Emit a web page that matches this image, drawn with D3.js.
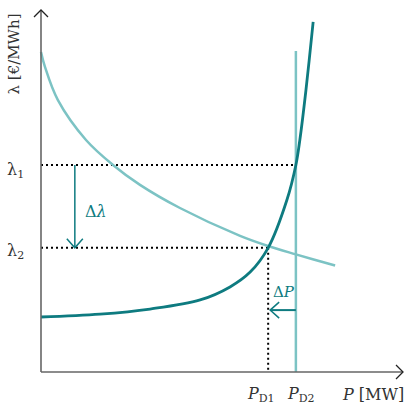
<!DOCTYPE html>
<html><head><meta charset="utf-8">
<script src="https://cdn.jsdelivr.net/npm/d3@7"></script>
<style>html,body{margin:0;padding:0;background:#fff;}svg{display:block;}</style>
</head><body>
<svg id="c" width="404" height="404"></svg>
<script>
// Data (arbitrary units: P 0..100, λ 0..100)
const supplyP = [0, 16.4, 30.3, 44.2, 52.5, 58.1, 63.1, 68.3, 70.8, 71.9, 73.6, 75.6];
const supplyL = [15.2, 16.0, 17.4, 19.9, 23.5, 27.6, 34.3, 47.5, 57.2, 64.1, 77.9, 96.7];
const demandP = [0, 1.1, 4.7, 12.5, 20.0, 27.5, 38.6, 55.3, 63.1, 70.8, 81.7];
const demandL = [88.4, 84.3, 75.1, 64.1, 57.2, 51.7, 45.3, 37.6, 34.8, 32.5, 29.4];
const inelasticP = 70.8, inelasticTop = 88.7;
const lambda1 = 57.2, lambda2 = 34.3, PD1 = 63.1, PD2 = 70.8;
const dLambdaP = 9.4, dPLambda = 17.1;

const svg = d3.select("#c");
const x = d3.scaleLinear().domain([0, 100]).range([41, 401]);
const y = d3.scaleLinear().domain([0, 100]).range([372, 10]);

const dark = "#0e7b80", light = "#7cc3c4", axisC = "#666";
const font = "'DejaVu Serif', 'Liberation Serif', serif";

const line = d3.line().x(d => x(d[0])).y(d => y(d[1])).curve(d3.curveCatmullRom.alpha(0.5));

// dotted guides
function dl(x1, y1, x2, y2) {
  svg.append("line").attr("x1", x1).attr("y1", y1).attr("x2", x2).attr("y2", y2)
    .attr("stroke", "#000").attr("stroke-width", 2).attr("stroke-dasharray", "2,3");
}
dl(x(0), y(lambda1), x(PD2), y(lambda1));
dl(x(0), y(lambda2), x(PD1), y(lambda2));
dl(x(PD1), y(lambda2), x(PD1), y(0));

// inelastic demand line
svg.append("line").attr("x1", x(inelasticP)).attr("x2", x(inelasticP))
  .attr("y1", y(0)).attr("y2", y(inelasticTop))
  .attr("stroke", light).attr("stroke-width", 2.5);

// demand curve
svg.append("path").datum(demandP.map((p, i) => [p, demandL[i]]))
  .attr("d", line).attr("fill", "none").attr("stroke", light).attr("stroke-width", 2.5);

// supply curve
svg.append("path").datum(supplyP.map((p, i) => [p, supplyL[i]]))
  .attr("d", line).attr("fill", "none").attr("stroke", dark).attr("stroke-width", 2.8);

// axes
svg.append("line").attr("x1", x(0)).attr("y1", y(0)).attr("x2", x(0)).attr("y2", y(100))
  .attr("stroke", axisC).attr("stroke-width", 1.6);
svg.append("line").attr("x1", x(0)).attr("y1", y(0)).attr("x2", x(100) + 2).attr("y2", y(0))
  .attr("stroke", axisC).attr("stroke-width", 1.6);
svg.append("path").attr("d", `M${x(0)-7},${y(100)+7}L${x(0)},${y(100)}L${x(0)+7},${y(100)+7}`)
  .attr("fill", "none").attr("stroke", "#222").attr("stroke-width", 1.3);
svg.append("path").attr("d", `M${x(100)-5},${y(0)-7}L${x(100)+2},${y(0)}L${x(100)-5},${y(0)+7}`)
  .attr("fill", "none").attr("stroke", "#222").attr("stroke-width", 1.3);

// Δλ arrow
svg.append("line").attr("x1", x(dLambdaP)).attr("x2", x(dLambdaP))
  .attr("y1", y(lambda1)).attr("y2", y(lambda2)).attr("stroke", dark).attr("stroke-width", 1.5);
svg.append("path").attr("d", `M${x(dLambdaP)-8},${y(lambda2)-9}L${x(dLambdaP)},${y(lambda2)}L${x(dLambdaP)+8},${y(lambda2)-9}`)
  .attr("fill", "none").attr("stroke", dark).attr("stroke-width", 1.5);

// ΔP arrow
svg.append("line").attr("x1", x(PD2)).attr("x2", x(PD1) + 2)
  .attr("y1", y(dPLambda)).attr("y2", y(dPLambda)).attr("stroke", dark).attr("stroke-width", 2);
svg.append("path").attr("d", `M${x(PD1)+11},${y(dPLambda)-8}L${x(PD1)+2},${y(dPLambda)}L${x(PD1)+11},${y(dPLambda)+8}`)
  .attr("fill", "none").attr("stroke", dark).attr("stroke-width", 1.5);

// labels
function sublabel(tx, ty, main, sub, italic, color) {
  const t = svg.append("text").attr("x", tx).attr("y", ty)
    .attr("font-family", font).attr("font-size", 16).attr("fill", color || "#333");
  t.append("tspan").text(main).attr("font-style", italic ? "italic" : "normal");
  t.append("tspan").text(sub).attr("font-size", 11).attr("dy", 3);
  return t;
}
sublabel(7, y(lambda1) + 10, "λ", "1", false);
sublabel(7, y(lambda2) + 8, "λ", "2", false);
sublabel(248, 399, "P", "D1", true);
sublabel(288, 399, "P", "D2", true);

const pm = svg.append("text").attr("x", 343).attr("y", 400)
  .attr("font-family", font).attr("font-size", 16).attr("fill", "#333");
pm.append("tspan").text("P").attr("font-style", "italic");
pm.append("tspan").text(" [MW]");

const dlt = svg.append("text").attr("x", 85).attr("y", 217)
  .attr("font-family", font).attr("font-size", 16).attr("fill", dark);
dlt.append("tspan").text("Δ");
dlt.append("tspan").text("λ").attr("font-style", "italic");

const dpt = svg.append("text").attr("x", 273).attr("y", 297)
  .attr("font-family", font).attr("font-size", 15).attr("fill", dark);
dpt.append("tspan").text("Δ");
dpt.append("tspan").text("P").attr("font-style", "italic");

svg.append("text").attr("transform", `translate(19,54) rotate(-90)`)
  .attr("text-anchor", "middle").attr("font-family", font).attr("font-size", 15)
  .attr("fill", "#333").text("λ [€/MWh]");
</script>
</body></html>
